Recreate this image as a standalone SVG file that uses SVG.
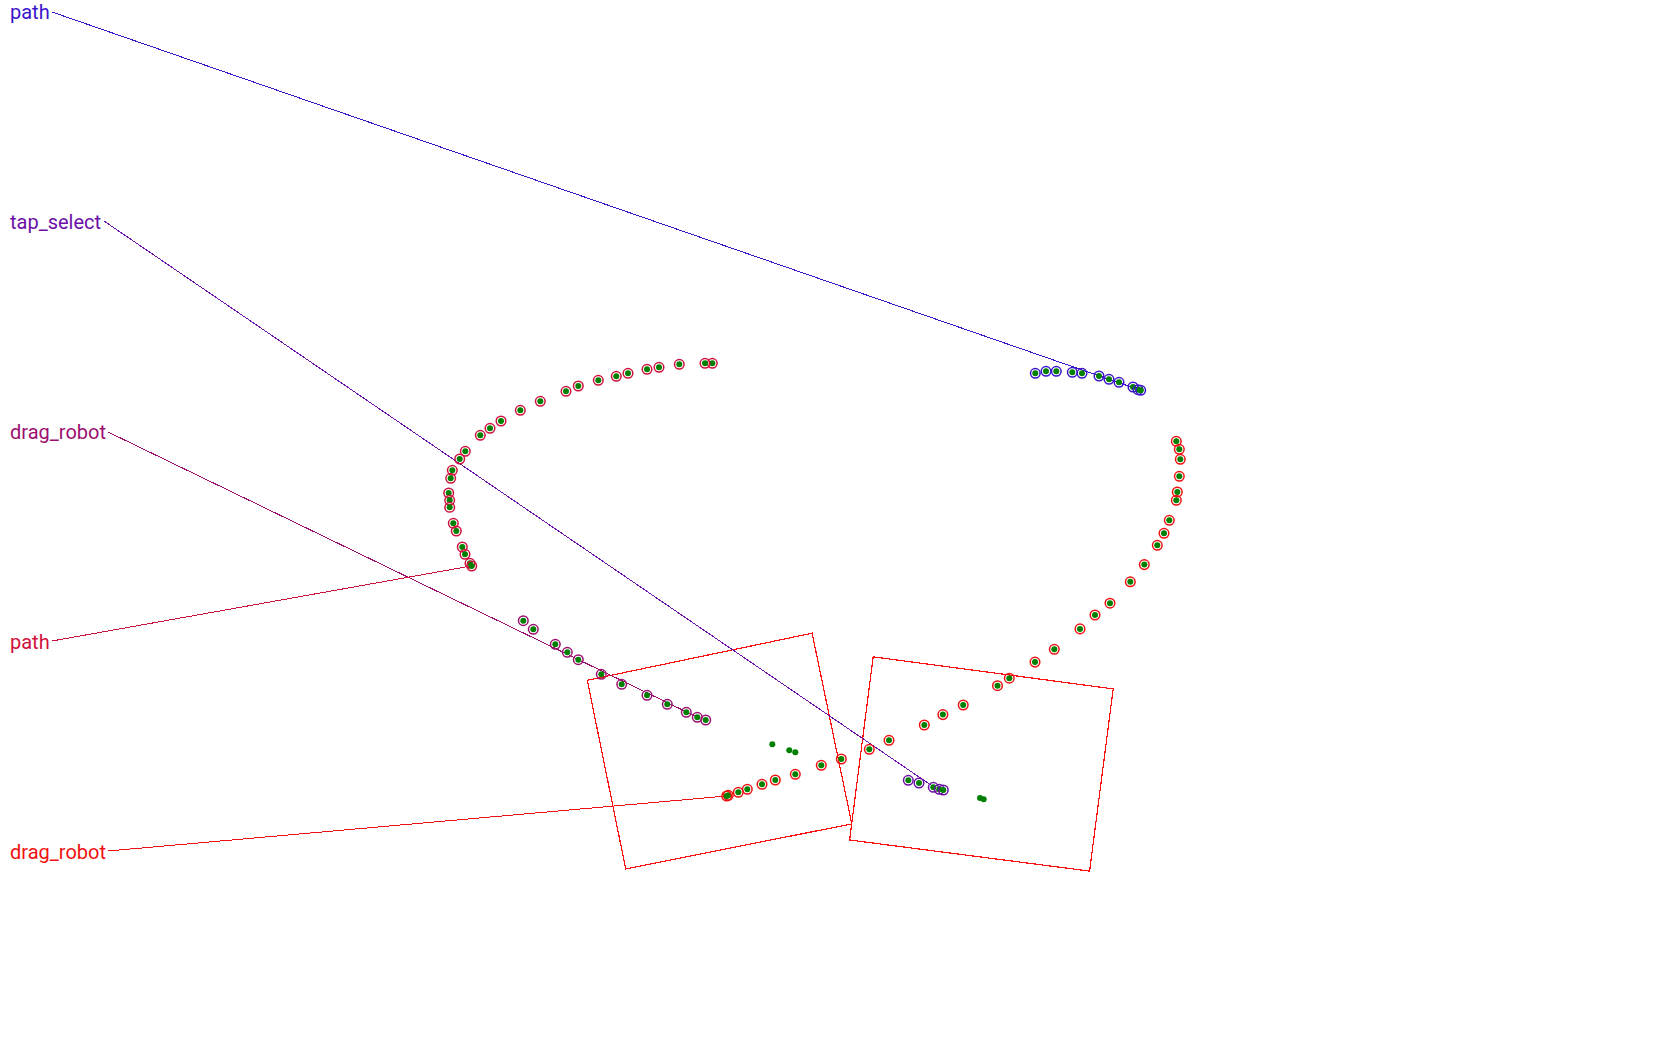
<svg xmlns="http://www.w3.org/2000/svg" width="1680" height="1050" viewBox="0 0 1680 1050">
<style>
text{font-family:Roboto,"Liberation Sans",sans-serif;font-size:20px}
polyline,polygon{shape-rendering:crispEdges}
.dot{fill:#008000}
.ring{fill:none;stroke-width:1.5}
.lead{fill:none;stroke-width:1}
.box{fill:none;stroke:#ff1010;stroke-width:1.2}
.c1{stroke:#3b14cc}.t1{fill:#3b14cc}
.c2{stroke:#6c0fa8}.t2{fill:#6c0fa8}
.c3{stroke:#9c0e70}.t3{fill:#9c0e70}
.c4{stroke:#d0103c}.t4{fill:#d0103c}
.c5{stroke:#f01010}.t5{fill:#f01010}
</style>
<defs>
<g id="pt1"><circle class="ring c1" r="4.8"/><circle class="dot" r="3"/></g>
<g id="pt2"><circle class="ring c2" r="4.8"/><circle class="dot" r="3"/></g>
<g id="pt3"><circle class="ring c3" r="4.8"/><circle class="dot" r="3"/></g>
<g id="pt4"><circle class="ring c4" r="4.8"/><circle class="dot" r="3"/></g>
<g id="pt5"><circle class="ring c5" r="4.8"/><circle class="dot" r="3"/></g>
</defs>
<rect width="1680" height="1050" fill="#ffffff"/>

<g id="boxes">
<polygon class="box" points="587.3,680.3 812.1,633.2 851.8,823.9 625.7,868.9"/>
<polygon class="box" points="873.2,656.8 1113.2,688.9 1089.6,871.1 849.6,840"/>
</g>

<g id="connectors">
<polyline class="lead c1" points="52,12 1140.7,390.3"/>
<polyline class="lead c2" points="104,221 933,786.5"/>
<polyline class="lead c3" points="108,432 697,717"/>
<polyline class="lead c4" points="52,641 471,566"/>
<polyline class="lead c5" points="108,851 726.7,796"/>
</g>

<g id="series-path-1">
<text class="t1" x="10" y="19">path</text>
<use href="#pt1" x="1035.3" y="373.3"/><use href="#pt1" x="1046" y="371.3"/><use href="#pt1" x="1056.3" y="371.3"/>
<use href="#pt1" x="1072.3" y="372.3"/><use href="#pt1" x="1082" y="373.3"/><use href="#pt1" x="1099" y="376"/>
<use href="#pt1" x="1109" y="379.3"/><use href="#pt1" x="1119" y="382.3"/><use href="#pt1" x="1133" y="387"/>
<use href="#pt1" x="1138" y="389.7"/><use href="#pt1" x="1140.7" y="390.3"/>
</g>

<g id="series-tap-select">
<text class="t2" x="10" y="229">tap_select</text>
<use href="#pt2" x="908.3" y="780.3"/><use href="#pt2" x="919" y="783"/><use href="#pt2" x="933.3" y="787.3"/>
<use href="#pt2" x="939.3" y="789.3"/><use href="#pt2" x="943.3" y="790"/>
</g>

<g id="series-drag-robot-1">
<text class="t3" x="10" y="439">drag_robot</text>
<use href="#pt3" x="523.3" y="620.7"/><use href="#pt3" x="533.3" y="629.3"/><use href="#pt3" x="555.3" y="644.3"/>
<use href="#pt3" x="567.3" y="652.3"/><use href="#pt3" x="578.3" y="659.7"/><use href="#pt3" x="601.3" y="674.3"/>
<use href="#pt3" x="621.7" y="684.3"/><use href="#pt3" x="647" y="695.3"/><use href="#pt3" x="667.3" y="704.3"/>
<use href="#pt3" x="686.3" y="712.3"/><use href="#pt3" x="697.3" y="717.3"/><use href="#pt3" x="705.7" y="720"/>
</g>

<g id="series-path-2">
<text class="t4" x="10" y="649">path</text>
<use href="#pt4" x="712.3" y="363.3"/><use href="#pt4" x="705" y="363.3"/><use href="#pt4" x="679.3" y="364.3"/>
<use href="#pt4" x="659" y="367.3"/><use href="#pt4" x="647" y="369.3"/><use href="#pt4" x="628" y="373.3"/>
<use href="#pt4" x="616.3" y="376.3"/><use href="#pt4" x="598.3" y="380.3"/><use href="#pt4" x="578.3" y="386"/>
<use href="#pt4" x="566" y="391.3"/><use href="#pt4" x="540.3" y="401.3"/><use href="#pt4" x="520.3" y="410.3"/>
<use href="#pt4" x="501" y="421"/><use href="#pt4" x="490" y="428.3"/><use href="#pt4" x="480.3" y="435.3"/>
<use href="#pt4" x="465.3" y="451.3"/><use href="#pt4" x="459.7" y="459"/><use href="#pt4" x="452.3" y="470.3"/>
<use href="#pt4" x="450.7" y="478.3"/><use href="#pt4" x="448.7" y="493"/><use href="#pt4" x="449.7" y="500.3"/>
<use href="#pt4" x="449.7" y="507.3"/><use href="#pt4" x="453.3" y="523.3"/><use href="#pt4" x="456.3" y="531"/>
<use href="#pt4" x="462.3" y="547"/><use href="#pt4" x="465" y="554.3"/><use href="#pt4" x="470" y="563.3"/>
<use href="#pt4" x="471.7" y="566"/>
</g>

<g id="series-drag-robot-2">
<text class="t5" x="10" y="859">drag_robot</text>
<use href="#pt5" x="1176.3" y="441.3"/><use href="#pt5" x="1179.3" y="449.3"/><use href="#pt5" x="1180.3" y="459.3"/>
<use href="#pt5" x="1179.3" y="476.3"/><use href="#pt5" x="1177.3" y="492"/><use href="#pt5" x="1176.3" y="500.3"/>
<use href="#pt5" x="1169.3" y="520.3"/><use href="#pt5" x="1164" y="533.3"/><use href="#pt5" x="1157.3" y="545.3"/>
<use href="#pt5" x="1144.3" y="564.6"/><use href="#pt5" x="1130.3" y="581.8"/><use href="#pt5" x="1110" y="603.2"/>
<use href="#pt5" x="1095" y="615"/><use href="#pt5" x="1080" y="628.9"/><use href="#pt5" x="1054.3" y="649.3"/>
<use href="#pt5" x="1035" y="662.1"/><use href="#pt5" x="1009.3" y="678.2"/><use href="#pt5" x="997.5" y="685.7"/>
<use href="#pt5" x="963.2" y="705"/><use href="#pt5" x="942.9" y="714.6"/><use href="#pt5" x="924.3" y="725"/>
<use href="#pt5" x="889" y="740.3"/><use href="#pt5" x="869.3" y="749.3"/><use href="#pt5" x="841.3" y="759"/>
<use href="#pt5" x="821.3" y="765.3"/><use href="#pt5" x="795.3" y="774.3"/><use href="#pt5" x="775.3" y="780"/>
<use href="#pt5" x="762" y="784.3"/><use href="#pt5" x="747.3" y="789.3"/><use href="#pt5" x="738.3" y="792.3"/>
<use href="#pt5" x="728.3" y="795.3"/><use href="#pt5" x="726.7" y="796"/>
</g>

<g id="loose-dots">
<circle class="dot" cx="772.3" cy="744.3" r="3"/>
<circle class="dot" cx="789.3" cy="750.3" r="3"/>
<circle class="dot" cx="795.3" cy="752.3" r="3"/>
<circle class="dot" cx="980" cy="798" r="3"/>
<circle class="dot" cx="983.7" cy="799.3" r="3"/>
</g>
</svg>
